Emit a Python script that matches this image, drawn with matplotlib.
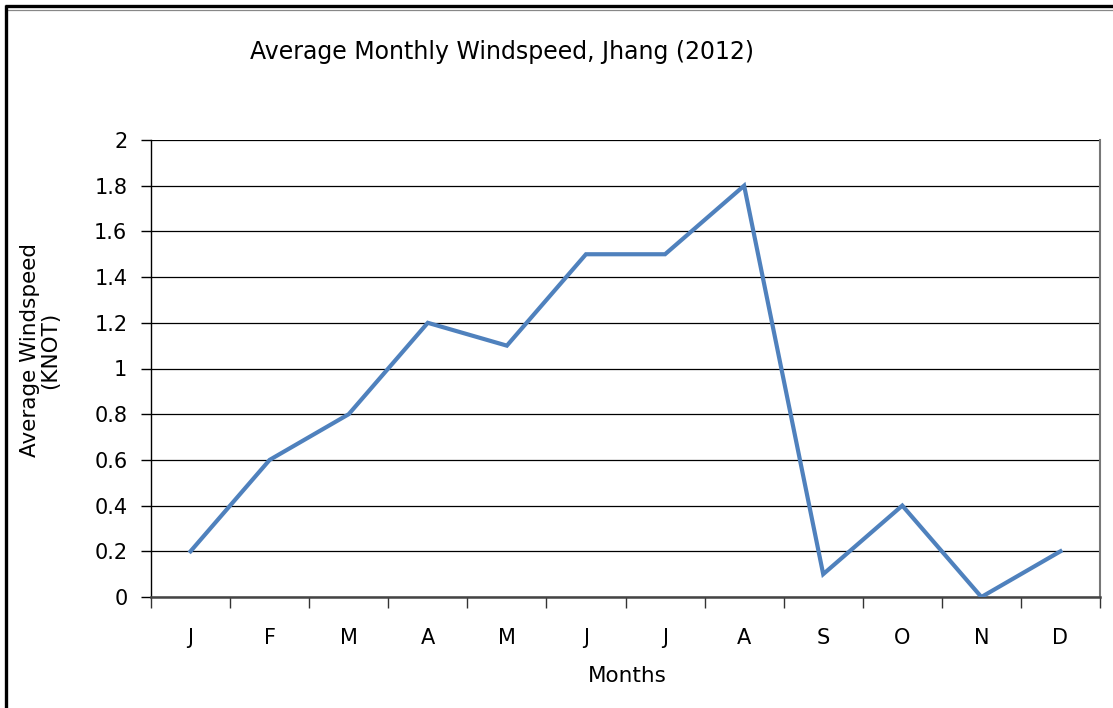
import matplotlib
matplotlib.use("Agg")
import matplotlib.pyplot as plt
from matplotlib.lines import Line2D

months = ["J", "F", "M", "A", "M", "J", "J", "A", "S", "O", "N", "D"]
windspeed = [0.2, 0.6, 0.8, 1.2, 1.1, 1.5, 1.5, 1.8, 0.1, 0.4, 0.0, 0.2]
yticks = [0, 0.2, 0.4, 0.6, 0.8, 1, 1.2, 1.4, 1.6, 1.8, 2]
ytick_labels = ["0", "0.2", "0.4", "0.6", "0.8", "1", "1.2", "1.4", "1.6", "1.8", "2"]

plt.rcParams["font.family"] = ["DejaVu Sans"]

W, H = 1113, 708
fig = plt.figure(figsize=(W / 100, H / 100), dpi=100)
fig.patch.set_facecolor("white")

# plot area in pixel coordinates
left, right, top, bottom = 151, 1100, 140, 597
ax = fig.add_axes([left / W, (H - bottom) / H, (right - left) / W, (bottom - top) / H])

x = list(range(len(months)))
ax.plot(x, windspeed, color="#4F81BD", linewidth=3.0, solid_joinstyle="miter", zorder=3)

ax.set_xlim(-0.5, len(months) - 0.5)
ax.set_ylim(0, 2)

ax.set_yticks(yticks)
ax.set_yticklabels(ytick_labels, fontsize=15)
ax.yaxis.grid(True, color="black", linewidth=0.9)
ax.set_axisbelow(True)

ax.set_xticks(x)
ax.set_xticklabels(months, fontsize=15)
ax.set_xticks([i - 0.5 for i in range(len(months) + 1)], minor=True)
ax.tick_params(axis="x", which="major", length=0, pad=22)
ax.tick_params(axis="x", which="minor", length=8, direction="out", width=1, color="#333333")
ax.tick_params(axis="y", length=7, direction="out", width=1, pad=10)

ax.spines["top"].set_visible(False)
ax.spines["left"].set_color("black")
ax.spines["left"].set_linewidth(1.0)
ax.spines["bottom"].set_color("#444444")
ax.spines["bottom"].set_linewidth(1.8)
ax.spines["right"].set_color("#777777")
ax.spines["right"].set_linewidth(1.5)

# titles and axis labels
fig.text(502 / W, 1 - 52 / H, "Average Monthly Windspeed, Jhang (2012)",
         ha="center", va="center", fontsize=17)
fig.text(627 / W, 1 - 676 / H, "Months", ha="center", va="center", fontsize=15.5)
fig.text(40 / W, 1 - 350 / H, "Average Windspeed\n(KNOT)", ha="center", va="center",
         rotation=90, fontsize=15.5, linespacing=1.0)

# outer frame
def px_line(x0, y0, x1, y1, lw, color):
    fig.add_artist(Line2D([x0 / W, x1 / W], [1 - y0 / H, 1 - y1 / H],
                          transform=fig.transFigure, color=color, linewidth=lw,
                          solid_capstyle="butt"))

px_line(5, 6, W, 6, 2.4, "black")
px_line(7, 10, W, 10, 0.9, "#888888")
px_line(6, 5, 6, H, 2.4, "black")

fig.savefig("out.png", dpi=100, facecolor="white")
